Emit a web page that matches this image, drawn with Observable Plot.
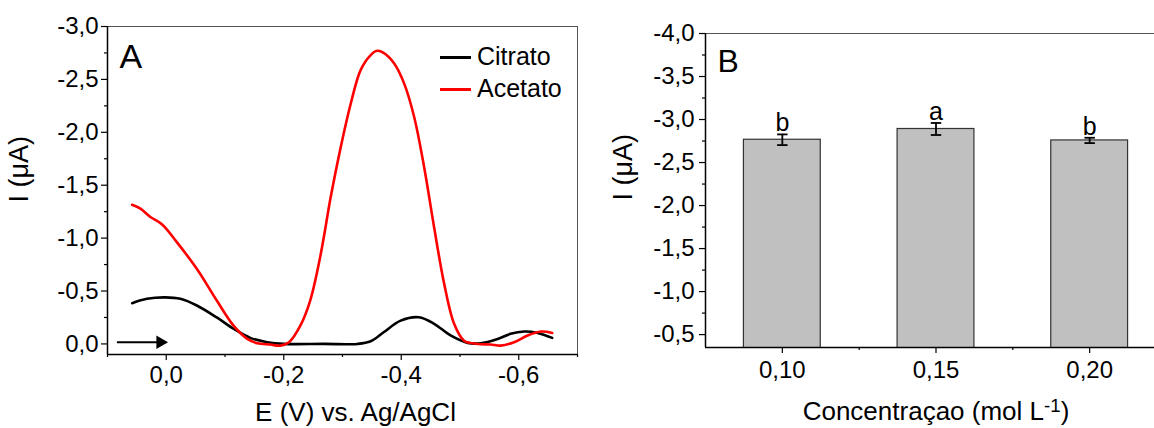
<!DOCTYPE html>
<html><head><meta charset="utf-8">
<script src="https://cdn.jsdelivr.net/npm/d3@7"></script>
<script src="https://cdn.jsdelivr.net/npm/@observablehq/plot@0.6"></script>
<style>
body{margin:0;background:#fff;font-family:"Liberation Sans",Arial,sans-serif;}
#wrap{position:relative;width:1154px;height:428px;overflow:hidden;background:#fff}
#a{position:absolute;left:0;top:0;width:600px;height:428px}
#b{position:absolute;left:580px;top:0;width:600px;height:428px}
#a svg,#b svg{max-width:none !important;width:600px;height:428px}
.legend{position:absolute;left:440px;top:40px;font-size:25px;color:#000;line-height:32px}
.legend .row{display:flex;align-items:center;height:32px}
.legend .sw{display:inline-block;width:31px;height:0;border-top:3px solid;margin-right:6px;margin-top:3px}
</style></head><body>
<div id="wrap"><div id="a"></div><div id="b"></div>
<div class="legend" id="legend"></div></div>
<script>
// ---------- Panel A data ----------
const seriesNames = ["Citrato", "Acetato"];
const seriesColors = ["#000000", "#ff0000"];
const citratoE = [0.058, 0.033, 0.002, -0.024, -0.052, -0.086, -0.115, -0.143, -0.172, -0.2, -0.268, -0.325, -0.348, -0.37, -0.399, -0.43, -0.456, -0.484, -0.513, -0.535, -0.564, -0.586, -0.609, -0.632, -0.657];
const citratoI = [-0.385, -0.426, -0.44, -0.426, -0.363, -0.25, -0.142, -0.057, -0.016, 0, 0, 0, -0.025, -0.11, -0.22, -0.252, -0.19, -0.08, -0.01, -0.006, -0.047, -0.095, -0.117, -0.104, -0.057];
const acetatoE = [0.058, 0.044, 0.027, 0.007, -0.018, -0.052, -0.086, -0.115, -0.138, -0.155, -0.177, -0.194, -0.209, -0.228, -0.245, -0.263, -0.28, -0.297, -0.314, -0.331, -0.348, -0.359, -0.37, -0.388, -0.405, -0.422, -0.439, -0.456, -0.473, -0.49, -0.507, -0.53, -0.552, -0.569, -0.592, -0.615, -0.638, -0.657];
const acetatoI = [-1.315, -1.278, -1.199, -1.129, -0.962, -0.71, -0.41, -0.17, -0.047, -0.006, 0.006, 0.016, -0.016, -0.17, -0.41, -0.85, -1.39, -1.86, -2.27, -2.59, -2.73, -2.77, -2.75, -2.65, -2.46, -2.145, -1.67, -1.10, -0.57, -0.19, -0.03, 0, 0.006, 0.016, -0.016, -0.08, -0.117, -0.104];
const arrowE = [0.084, 0.0];
const arrowI = -0.016;
const xDomainA = [0.1, -0.7];
const yDomainA = [0.1, -3.0];
const xTicksA = [0, -0.2, -0.4, -0.6];
const xMinorA = [0.1, -0.1, -0.3, -0.5, -0.7];
const yTicksA = [0, -0.5, -1.0, -1.5, -2.0, -2.5, -3.0];
const yMinorA = [-0.25, -0.75, -1.25, -1.75, -2.25, -2.75];

// ---------- Panel B data ----------
const concentrations = [0.10, 0.15, 0.20];
const currents = [-2.765, -2.89, -2.757];
const errors = [0.062, 0.07, 0.031];
const letters = ["b", "a", "b"];
const xDomainB = [0.075, 0.225];
const yDomainB = [-0.35, -4.0];
const xTicksB = [0.10, 0.15, 0.20];
const xMinorB = [0.125, 0.175, 0.225];
const yTicksB = [-4.0, -3.5, -3.0, -2.5, -2.0, -1.5, -1.0, -0.5];
const yMinorB = [-3.75, -3.25, -2.75, -2.25, -1.75, -1.25, -0.75];

const locale = d3.formatLocale({decimal: ",", thousands: ".", grouping: [3], currency: ["", ""], minus: "-"});
const f1 = locale.format(".1f");
const f2 = locale.format(".2f");
const blank = () => "";
const font = "'Liberation Sans', Arial, sans-serif";
const tickFont = 24;

const citrato = citratoE.map((E, i) => ({E, I: citratoI[i]}));
const acetato = acetatoE.map((E, i) => ({E, I: acetatoI[i]}));

const plotA = Plot.plot({
  width: 600, height: 428,
  marginLeft: 107, marginRight: 23, marginTop: 26, marginBottom: 74,
  style: {fontFamily: font, fontSize: "22px", color: "#000", background: "transparent"},
  x: {domain: xDomainA},
  y: {domain: yDomainA},
  marks: [
    Plot.frame({stroke: "#555", strokeWidth: 1}),
    Plot.ruleX([xDomainA[0]], {stroke: "#000", strokeWidth: 1.5}),
    Plot.ruleY([yDomainA[0]], {stroke: "#000", strokeWidth: 1.5}),
    Plot.axisX({ticks: xTicksA, tickSize: 6, tickPadding: 5, tickFormat: f1, label: null, fontSize: tickFont, strokeWidth: 1.2}),
    Plot.axisX({ticks: xMinorA, tickSize: 3, tickFormat: blank, label: null, strokeWidth: 1.2}),
    Plot.axisY({ticks: yTicksA, tickSize: 6, tickPadding: 3, tickFormat: f1, label: null, fontSize: tickFont, strokeWidth: 1.2}),
    Plot.axisY({ticks: yMinorA, tickSize: 3, tickFormat: blank, label: null, strokeWidth: 1.2}),
    Plot.line(citrato, {x: "E", y: "I", stroke: seriesColors[0], strokeWidth: 2.6, curve: "catmull-rom"}),
    Plot.line(acetato, {x: "E", y: "I", stroke: seriesColors[1], strokeWidth: 2.6, curve: "catmull-rom"}),
    Plot.link([0], {x1: arrowE[0], x2: arrowE[1], y1: arrowI, y2: arrowI, stroke: "#000", strokeWidth: 2}),
    Plot.dot([0], {x: arrowE[1], y: arrowI, symbol: "triangle", r: 5, fill: "#000", stroke: "none", rotate: 90, dx: -6}),
    Plot.text(["A"], {frameAnchor: "top-left", textAnchor: "start", lineAnchor: "top", dx: 12, dy: 17, fontSize: 34}),
    Plot.text(["I (μA)"], {frameAnchor: "left", rotate: -90, dx: -88, dy: 12, fontSize: 27}),
    Plot.text(["E (V) vs. Ag/AgCl"], {frameAnchor: "bottom", lineAnchor: "top", dx: 13, dy: 48, fontSize: 26})
  ]
});
document.getElementById("a").append(plotA);

const bars = concentrations.map((c, i) => ({c, v: currents[i], e: errors[i], l: letters[i]}));
const halfBar = 0.0125, halfCap = 0.0017;

const plotB = Plot.plot({
  width: 600, height: 428,
  marginLeft: 125, marginRight: 14, marginTop: 33, marginBottom: 81,
  style: {fontFamily: font, fontSize: "22px", color: "#000", background: "transparent"},
  x: {domain: xDomainB},
  y: {domain: yDomainB},
  marks: [
    Plot.rectY(bars, {x1: d => d.c - halfBar, x2: d => d.c + halfBar, y1: 0, y2: "v", fill: "#c0c0c0", stroke: "#333", strokeWidth: 1.2, clip: true}),
    Plot.frame({stroke: "#555", strokeWidth: 1}),
    Plot.ruleX([xDomainB[0]], {stroke: "#000", strokeWidth: 1.5}),
    Plot.ruleY([yDomainB[0]], {stroke: "#000", strokeWidth: 1.5}),
    Plot.axisX({ticks: xTicksB, tickSize: 6, tickPadding: 7, tickFormat: f2, label: null, fontSize: tickFont, strokeWidth: 1.2}),
    Plot.axisX({ticks: xMinorB, tickSize: 3, tickFormat: blank, label: null, strokeWidth: 1.2}),
    Plot.axisY({ticks: yTicksB, tickSize: 6, tickPadding: 5, tickFormat: f1, label: null, fontSize: tickFont, strokeWidth: 1.2}),
    Plot.axisY({ticks: yMinorB, tickSize: 3, tickFormat: blank, label: null, strokeWidth: 1.2}),
    Plot.ruleX(bars, {x: "c", y1: d => d.v + d.e, y2: d => d.v - d.e, stroke: "#000", strokeWidth: 1.8}),
    Plot.link(bars, {x1: d => d.c - halfCap, x2: d => d.c + halfCap, y1: d => d.v - d.e, y2: d => d.v - d.e, stroke: "#000", strokeWidth: 1.8}),
    Plot.link(bars, {x1: d => d.c - halfCap, x2: d => d.c + halfCap, y1: d => d.v + d.e, y2: d => d.v + d.e, stroke: "#000", strokeWidth: 1.8}),
    Plot.text(bars, {x: "c", y: d => d.v - d.e, text: "l", lineAnchor: "bottom", dy: -3, fontSize: 25}),
    Plot.text(["B"], {frameAnchor: "top-left", textAnchor: "start", lineAnchor: "top", dx: 12, dy: 16, fontSize: 32}),
    Plot.text(["I (μA)"], {frameAnchor: "left", rotate: -90, dx: -82, dy: 10, fontSize: 27}),
    Plot.text(["Concentraçao (mol L-1)"], {frameAnchor: "bottom", lineAnchor: "top", dy: 54, fontSize: 26})
  ]
});
document.getElementById("b").append(plotB);

// superscript for the unit
d3.select(plotB).selectAll("text").filter(function() { return this.textContent === "Concentraçao (mol L-1)"; })
  .each(function() {
    const t = d3.select(this);
    t.text("Concentraçao (mol L");
    t.append("tspan").attr("dy", "-0.45em").attr("font-size", "0.72em").text("-1");
    t.append("tspan").attr("dy", "0.32em").text(")");
  });

// legend
const lg = d3.select("#legend");
seriesNames.forEach((n, i) => {
  const row = lg.append("div").attr("class", "row");
  row.append("span").attr("class", "sw").style("border-color", seriesColors[i]);
  row.append("span").text(n);
});
</script>
</body></html>
